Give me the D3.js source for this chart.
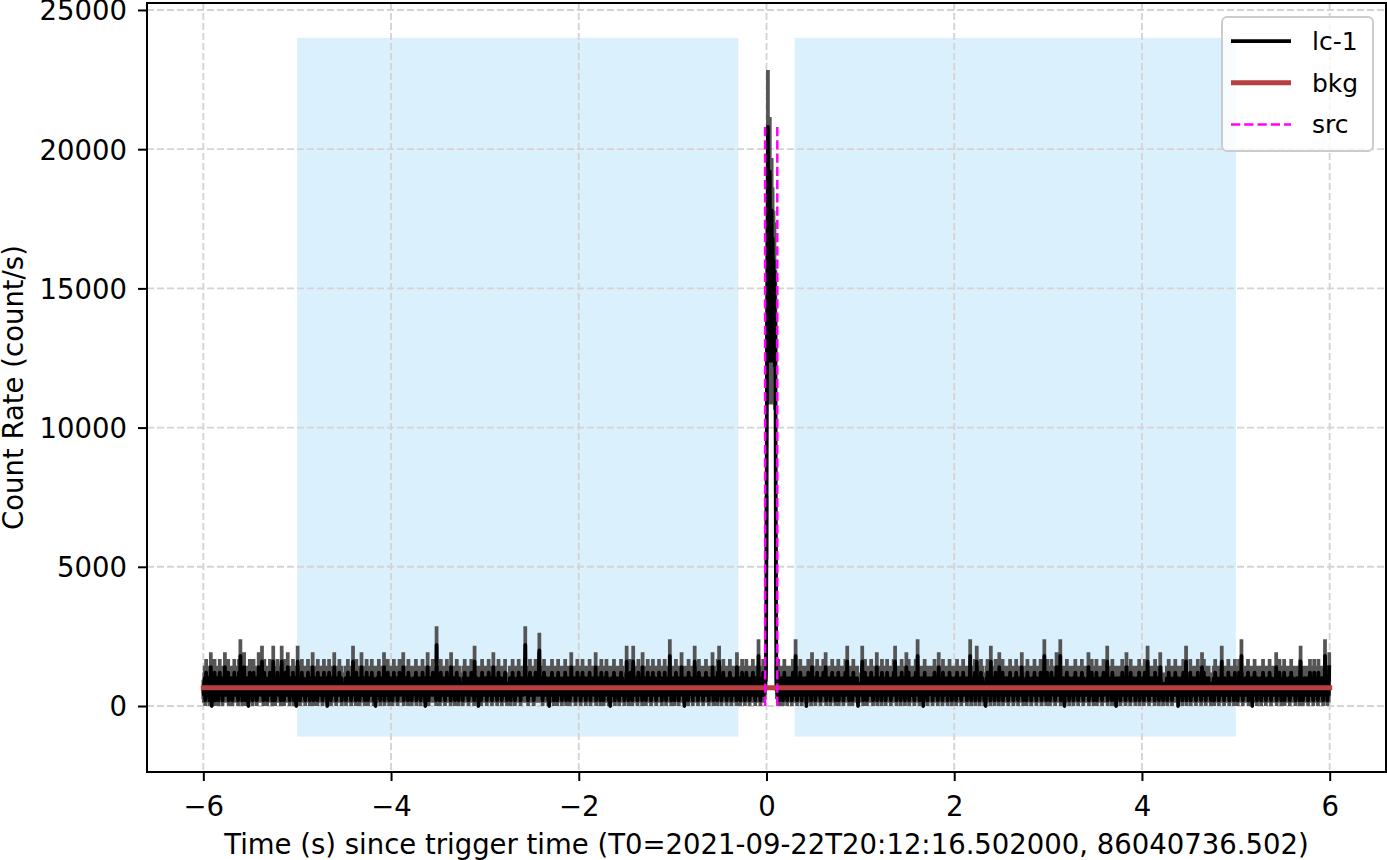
<!DOCTYPE html>
<html lang="en">

<head>
    <meta charset="UTF-8">
    <title>lc-1 light curve</title>
    <script src="https://cdn.jsdelivr.net/npm/d3@7"></script>
    <style>
        body { margin: 0; background: #fff; }
        text { font-family: "DejaVu Sans", sans-serif; }
    </style>
</head>

<body>
    <script>
    // light curve: counts per 5 ms bin, first bin at t = -6 s
    var binSize = 0.005;
    var tStart = -6;
    var counts = [
        3,2,4,5,1,3,6,2,3,4, 2,5,3,1,4,3,7,2,0,3, 4,2,5,3,6,1,2,4,3,5, 2,3,1,4,2,6,3,5,4,2, 3,1,5,4,2,3,7,2,4,3,
        2,4,3,6,1,3,2,5,4,3, 5,2,1,3,4,2,6,3,2,4, 3,5,2,4,1,3,6,2,4,9, 3,2,5,1,4,3,2,7,3,4, 1,3,4,2,5,3,0,4,2,6,
        4,3,2,5,3,1,4,6,2,3, 2,4,5,3,1,2,4,3,7,2, 5,3,4,2,3,8,2,4,1,3, 6,2,3,5,4,2,1,3,4,5, 2,3,6,4,2,3,5,1,3,8,
        3,2,4,1,5,3,2,4,6,3, 2,5,3,4,2,1,3,8,4,2, 5,3,1,4,3,6,2,3,4,2, 7,3,2,4,1,5,3,2,4,3, 2,6,3,1,4,2,5,3,0,4,
        3,8,2,4,3,5,1,3,4,2, 6,3,2,5,3,4,2,1,3,4, 2,5,3,6,2,4,3,1,5,2, 3,4,2,7,3,1,4,2,3,5, 4,2,3,1,6,3,2,4,3,2,
        5,3,2,4,1,3,4,6,2,3, 4,2,5,3,0,4,3,2,6,4, 2,3,1,5,3,4,2,3,4,7, 3,2,4,1,3,5,2,4,3,2, 6,3,4,2,5,1,3,4,2,3,
        2,4,3,5,1,4,2,3,6,3, 4,2,3,5,2,1,4,3,2,8, 3,5,2,4,3,1,6,2,3,4, 5,2,3,1,4,3,2,7,3,2, 4,3,5,2,1,3,4,2,6,3,
        3,1,4,2,5,3,2,4,3,6, 2,3,5,1,3,4,2,0,4,3, 5,2,3,4,6,2,3,1,4,5, 3,2,4,3,2,7,1,3,5,2, 4,3,2,6,3,4,1,2,3,5,
        2,4,3,1,5,2,6,3,4,2, 3,5,2,4,1,3,2,4,6,3, 4,2,3,5,3,2,7,1,3,4, 2,3,5,2,4,3,1,6,2,3, 5,4,2,3,1,4,3,2,5,3,
        4,2,3,6,1,3,4,2,5,3, 2,4,3,1,5,2,3,6,4,2, 3,5,2,0,4,3,2,4,7,3, 1,4,3,2,5,3,4,2,3,6, 2,3,4,5,2,3,1,11,4,3,
        3,5,2,4,1,3,6,2,3,4, 2,3,5,4,2,1,3,4,2,6, 4,2,3,5,3,2,4,1,7,3, 2,4,3,2,5,3,1,4,3,2, 6,3,2,4,1,5,3,2,4,3,
        2,3,4,1,5,3,2,6,4,3, 5,2,3,4,2,1,3,5,4,2, 3,6,2,4,3,2,5,1,8,3, 4,2,3,5,2,4,0,3,2,4, 3,5,1,3,6,2,4,3,2,5,
        4,2,3,5,1,3,4,2,6,3, 2,4,5,3,2,1,4,3,7,2, 3,5,2,4,3,2,1,4,3,6, 2,3,4,2,5,3,1,3,4,2, 5,2,3,6,2,4,3,1,4,3,
        3,4,2,5,3,1,4,2,3,6, 2,3,5,4,1,3,2,4,3,5, 4,2,6,3,2,4,1,3,5,2, 3,4,2,5,3,6,11,4,3,2, 5,3,1,4,2,3,6,2,4,3,
        2,5,3,4,1,3,2,4,6,3, 4,2,3,5,2,7,10,4,3,2, 3,5,2,1,4,3,6,2,3,4, 2,3,5,2,4,1,3,0,4,5, 3,2,4,6,2,3,5,1,3,4,
        3,2,4,5,1,3,6,2,4,3, 5,3,2,4,1,3,2,5,4,3, 2,6,3,1,4,2,3,5,2,4, 3,1,4,2,7,3,2,4,3,5, 2,4,3,1,5,3,2,6,3,2,
        4,3,2,5,1,4,3,2,6,3, 2,4,3,5,2,1,3,4,2,5, 3,2,4,6,3,1,5,3,2,4, 3,5,2,3,4,2,7,1,3,4, 2,3,5,2,4,3,1,4,6,3,
        2,4,3,1,5,3,2,4,3,6, 3,2,5,4,1,3,2,0,4,3, 5,2,3,4,2,6,3,1,4,2, 3,5,2,4,3,2,1,5,3,4, 6,2,3,5,2,4,3,1,3,2,
        3,4,8,2,5,3,1,4,2,3, 6,3,2,4,1,5,8,3,2,4, 3,2,5,3,4,1,3,6,2,4, 5,3,2,4,3,1,7,2,3,4, 2,5,3,1,4,3,2,6,3,2,
        4,2,3,5,1,3,4,2,6,3, 2,4,5,3,2,1,3,4,2,5, 3,6,2,4,3,2,5,1,4,3, 2,3,4,6,2,3,1,5,3,4, 2,3,5,4,9,2,3,1,4,3,
        3,5,2,4,1,3,2,6,3,4, 2,3,5,1,4,3,2,4,3,7, 4,2,3,5,2,0,4,3,2,5, 3,4,2,1,6,3,2,4,3,5, 2,4,3,1,5,3,2,8,3,4,
        2,3,4,5,1,3,6,2,4,3, 5,2,3,4,2,1,3,5,4,2, 3,6,2,4,3,2,5,1,3,4, 2,4,3,5,2,7,3,1,4,2, 3,5,2,4,3,1,6,2,3,8,
        4,2,3,5,1,3,4,2,6,3, 2,5,3,4,2,1,3,4,2,5, 3,2,6,4,3,1,5,2,3,4, 2,3,4,2,5,3,1,7,3,2, 4,3,5,2,1,4,3,2,6,3,
        3,2,4,5,1,3,2,6,4,3, 5,2,3,4,1,3,2,5,4,2, 3,6,2,4,3,2,1,5,3,4, 2,3,4,9,2,5,3,1,4,3, 2,5,3,6,2,4,3,4,5,7,
        32,62,78,104,70,92,64,96,62,85, 72,89,66,84,62,80,63,78,61,70, 24,5,3,4,2,6,3,1,5,3, 2,4,3,5,2,1,4,3,6,2, 3,5,2,4,1,3,2,5,4,3,
        2,4,3,5,1,3,6,2,4,3, 2,5,9,3,4,1,3,2,4,5, 3,2,6,4,3,1,5,2,3,4, 2,3,5,2,4,0,3,4,2,6, 3,4,2,5,3,1,4,7,3,2,
        4,3,2,5,1,3,4,2,6,3, 5,2,3,4,2,1,3,5,2,4, 3,6,2,4,3,2,7,1,4,3, 2,3,5,4,2,3,1,4,3,5, 6,2,3,4,2,5,3,1,3,4,
        3,2,4,6,1,3,2,5,4,3, 2,4,3,5,1,3,2,4,6,2, 3,5,8,3,2,4,1,3,5,2, 4,3,2,1,4,6,3,2,5,3, 2,4,3,5,2,0,3,4,2,3,
        4,3,2,5,8,3,1,4,2,3, 6,2,3,4,1,5,3,2,4,3, 2,5,3,6,2,4,3,1,3,4, 5,2,3,4,2,7,1,3,4,2, 3,5,2,4,3,1,6,2,3,4,
        2,4,3,5,1,3,2,6,4,3, 5,2,3,4,2,1,3,5,4,2, 3,6,2,4,8,2,3,1,5,3, 4,2,3,5,2,4,1,3,6,2, 3,4,2,5,3,1,4,3,7,2,
        3,2,4,6,1,3,5,2,4,3, 2,4,3,5,2,1,3,4,6,2, 4,3,9,2,3,5,1,4,2,3, 5,2,3,4,0,3,2,6,3,4, 2,5,3,1,4,2,3,5,3,4,
        4,3,2,5,1,4,3,2,6,3, 2,5,3,4,2,1,3,7,2,4, 3,2,5,4,3,1,6,2,3,4, 2,3,4,5,2,3,1,4,3,2, 6,3,2,4,5,1,3,4,2,3,
        3,5,2,4,1,3,6,2,3,4, 2,3,5,4,2,1,3,4,2,6, 4,2,3,5,3,2,4,1,3,5, 2,4,3,2,9,3,1,4,3,2, 5,3,2,4,6,1,3,2,8,3,
        2,4,3,5,1,3,2,6,4,3, 5,2,3,4,1,3,2,0,4,5, 3,6,2,4,3,2,5,1,8,3, 4,2,3,5,2,4,1,3,6,2, 3,5,2,4,3,1,7,2,3,4,
        4,2,3,6,1,3,4,2,5,3, 2,4,5,3,2,1,3,4,2,6, 3,5,2,4,3,2,1,4,3,5, 2,3,6,2,4,3,1,5,3,2, 4,3,5,2,7,3,2,1,4,3,
        3,2,4,5,1,3,6,2,4,3, 5,3,2,4,1,3,2,5,4,2, 3,6,2,4,3,1,5,2,3,4, 2,3,4,2,6,3,1,5,3,4, 2,5,9,3,2,4,1,3,6,3,
        2,4,3,5,1,3,2,6,3,4, 5,2,3,4,2,1,3,4,7,2, 3,5,2,4,3,2,9,1,4,3, 2,3,5,4,2,0,3,4,2,5, 6,3,2,4,3,1,5,2,3,4,
        4,3,2,5,1,3,4,2,6,3, 2,5,3,4,1,3,2,4,5,2, 3,2,6,4,3,1,5,2,3,4, 2,3,4,2,5,3,7,1,3,4, 2,4,3,6,2,5,3,1,3,2,
        3,2,4,6,1,3,5,2,4,3, 2,4,3,5,2,1,3,4,6,2, 4,3,5,2,3,4,8,1,3,2, 5,2,3,4,2,3,1,6,3,4, 2,5,3,1,4,0,3,5,2,4,
        4,3,2,5,1,4,3,2,6,3, 2,5,3,4,2,1,3,7,2,4, 3,2,5,4,3,1,6,2,3,4, 2,3,4,5,2,3,1,4,3,2, 5,3,2,4,6,1,3,4,2,3,
        3,5,2,4,1,3,6,2,3,4, 2,3,8,4,2,1,3,4,2,5, 4,2,3,5,3,2,4,1,6,3, 2,4,3,2,5,3,1,4,3,7, 5,3,2,4,2,1,3,2,4,3,
        2,4,3,5,1,3,2,6,4,3, 5,2,3,4,1,3,2,5,4,2, 3,6,2,4,3,2,5,0,3,4, 4,2,3,5,2,4,1,3,6,2, 3,5,2,4,8,1,3,2,3,4,
        4,2,3,6,1,3,4,2,5,3, 2,4,5,3,2,1,3,4,2,6, 3,5,2,4,3,2,1,4,7,5, 2,3,6,2,4,3,1,5,3,2, 4,3,5,2,3,3,2,1,4,3,
        3,2,4,5,1,3,6,2,4,3, 5,3,2,4,1,3,2,5,4,2, 8,3,2,4,3,1,5,2,3,4, 2,3,4,2,6,3,1,5,3,4, 2,5,3,3,2,4,1,3,6,3,
        2,4,3,5,1,3,2,6,3,4, 5,2,9,4,2,1,3,4,3,2, 3,5,2,4,3,2,6,1,4,3, 2,3,5,4,2,0,3,4,2,5, 6,3,2,4,3,1,5,2,3,4,
        4,3,2,5,1,3,4,2,6,3, 2,5,3,4,1,3,2,4,5,2, 3,2,6,4,3,1,5,2,3,4, 2,3,4,2,5,3,7,1,3,4, 2,4,3,6,2,5,3,1,3,2,
        3,2,4,6,1,3,5,2,4,3, 2,4,3,5,2,1,3,4,6,2, 4,3,5,2,3,4,2,1,3,2, 5,2,3,4,2,3,1,6,8,4, 2,5,3,1,4,3,3,5,2,4,
        4,3,2,5,1,4,3,2,6,3, 2,5,3,4,2,1,3,6,2,4, 3,2,5,4,3,1,6,2,3,4, 2,3,4,5,2,3,1,4,3,2, 9,3,2,4,5,1,3,4,2,7
    ];
    // fitted background (count/s)
    var bkgTimes = [-6, 6];
    var bkgRates = [660, 660];
    // source and background selections (s)
    var srcInterval = [-0.015, 0.115];
    var bkgIntervals = [[-5, -0.3], [0.3, 5]];
    var spanRates = [-1100, 24000];
    // ticks
    var xTicks = [-6, -4, -2, 0, 2, 4, 6];
    var yTicks = [0, 5000, 10000, 15000, 20000, 25000];
    var legendNames = ['lc-1', 'bkg', 'src'];

    var width = 1387; //画布宽
    var height = 860; //画布高
    var plot = { left: 147, right: 1386, top: 3, bottom: 772 };
    var labelSize = '27.5px';

    var lc = counts.map(function(c, i) {
        return {
            t: tStart + i * binSize,
            rate: c / binSize,
            err: Math.sqrt(c) / binSize
        };
    });

    var svg = d3.select('body')
        .append('svg')
        .attr('width', width)
        .attr('height', height);

    var x = d3.scaleLinear().domain([-6.6, 6.6]).range([plot.left, plot.right]);
    var y = d3.scaleLinear().domain([-2370, 25250]).range([plot.bottom, plot.top]);

    // background selection spans
    svg.append('g').selectAll('rect')
        .data(bkgIntervals)
        .enter()
        .append('rect')
        .attr('x', function(d) { return x(d[0]); })
        .attr('width', function(d) { return x(d[1]) - x(d[0]); })
        .attr('y', y(spanRates[1]))
        .attr('height', y(spanRates[0]) - y(spanRates[1]))
        .attr('fill', 'rgb(219,240,253)');

    // grid
    var grid = svg.append('g')
        .attr('stroke', '#d4d4d4')
        .attr('stroke-width', 1.9)
        .attr('stroke-dasharray', '7,3');
    grid.selectAll('.gx')
        .data(xTicks)
        .enter()
        .append('line')
        .attr('x1', function(d) { return x(d); })
        .attr('x2', function(d) { return x(d); })
        .attr('y1', plot.top)
        .attr('y2', plot.bottom);
    grid.selectAll('.gy')
        .data(yTicks)
        .enter()
        .append('line')
        .attr('y1', function(d) { return y(d); })
        .attr('y2', function(d) { return y(d); })
        .attr('x1', plot.left)
        .attr('x2', plot.right);

    // error bars
    var errPath = lc.map(function(d) {
        return 'M' + x(d.t) + ',' + y(d.rate - d.err) + 'V' + y(d.rate + d.err);
    }).join('');
    svg.append('path')
        .attr('d', errPath)
        .attr('stroke', '#555555')
        .attr('stroke-width', 3.75)
        .attr('fill', 'none');

    // light curve
    var line = d3.line()
        .x(function(d) { return x(d.t); })
        .y(function(d) { return y(d.rate); });
    svg.append('path')
        .datum(lc)
        .attr('d', line)
        .attr('fill', 'none')
        .attr('stroke', '#000')
        .attr('stroke-width', 3.75)
        .attr('stroke-linejoin', 'round')
        .attr('stroke-linecap', 'square');

    // background level
    svg.append('path')
        .datum(bkgTimes.map(function(t, i) { return [t, bkgRates[i]]; }))
        .attr('d', d3.line().x(function(d) { return x(d[0]); }).y(function(d) { return y(d[1]); }))
        .attr('fill', 'none')
        .attr('stroke', '#b83f3f')
        .attr('stroke-width', 5)
        .attr('stroke-linecap', 'square');

    // source interval
    var rMin = d3.min(lc, function(d) { return d.rate; });
    var rMax = d3.max(lc, function(d) { return d.rate; });
    svg.append('g').selectAll('line')
        .data(srcInterval)
        .enter()
        .append('line')
        .attr('x1', function(d) { return x(d); })
        .attr('x2', function(d) { return x(d); })
        .attr('y1', y(rMin))
        .attr('y2', y(rMax))
        .attr('stroke', '#ff00ff')
        .attr('stroke-width', 2.5)
        .attr('stroke-dasharray', '9.25,4');

    // frame
    svg.append('rect')
        .attr('x', plot.left)
        .attr('y', plot.top)
        .attr('width', plot.right - plot.left)
        .attr('height', plot.bottom - plot.top)
        .attr('fill', 'none')
        .attr('stroke', '#000')
        .attr('stroke-width', 2);

    // axes
    var fmtX = function(d) { return d < 0 ? '\u2212' + Math.abs(d) : String(d); };
    var xAxis = svg.append('g')
        .attr('transform', 'translate(0,' + plot.bottom + ')')
        .call(d3.axisBottom(x).tickValues(xTicks).tickFormat(fmtX).tickSize(9).tickSizeOuter(0));
    xAxis.select('.domain').remove();
    xAxis.selectAll('line').attr('stroke-width', 2);
    xAxis.selectAll('text')
        .attr('y', 44)
        .attr('dy', null)
        .attr('font-size', labelSize)
        .attr('fill', '#000');

    var yAxis = svg.append('g')
        .attr('transform', 'translate(' + plot.left + ',0)')
        .call(d3.axisLeft(y).tickValues(yTicks).tickFormat(d3.format('d')).tickSize(9).tickSizeOuter(0).tickPadding(11));
    yAxis.select('.domain').remove();
    yAxis.selectAll('line').attr('stroke-width', 2);
    yAxis.selectAll('text')
        .attr('dy', '0.36em')
        .attr('font-size', labelSize)
        .attr('fill', '#000');

    svg.selectAll('.tick text').attr('font-family', '"DejaVu Sans", sans-serif');

    // axis labels
    svg.append('text')
        .attr('x', (plot.left + plot.right) / 2)
        .attr('y', 854)
        .attr('text-anchor', 'middle')
        .attr('font-size', labelSize)
        .text('Time (s) since trigger time (T0=2021-09-22T20:12:16.502000, 86040736.502)');
    svg.append('text')
        .attr('transform', 'translate(23,' + (plot.top + plot.bottom) / 2 + ') rotate(-90)')
        .attr('text-anchor', 'middle')
        .attr('font-size', labelSize)
        .text('Count Rate (count/s)');

    // legend
    var legend = svg.append('g');
    legend.append('rect')
        .attr('x', 1222)
        .attr('y', 17)
        .attr('width', 151)
        .attr('height', 134)
        .attr('rx', 5)
        .attr('fill', '#fff')
        .attr('fill-opacity', 0.8)
        .attr('stroke', '#cccccc')
        .attr('stroke-width', 2);
    var legendStyle = [
        { stroke: '#000', width: 3.75, dash: null },
        { stroke: '#b83f3f', width: 5, dash: null },
        { stroke: '#ff00ff', width: 2.5, dash: '9.25,4' }
    ];
    var item = legend.selectAll('.item')
        .data(legendNames)
        .enter()
        .append('g')
        .attr('transform', function(d, i) { return 'translate(0,' + (41 + i * 41.7) + ')'; });
    item.append('line')
        .attr('x1', 1231)
        .attr('x2', 1291)
        .attr('stroke', function(d, i) { return legendStyle[i].stroke; })
        .attr('stroke-width', function(d, i) { return legendStyle[i].width; })
        .attr('stroke-dasharray', function(d, i) { return legendStyle[i].dash; });
    item.append('text')
        .attr('x', 1312)
        .attr('y', 9)
        .attr('font-size', '25px')
        .text(function(d) { return d; });
    </script>
</body>

</html>
